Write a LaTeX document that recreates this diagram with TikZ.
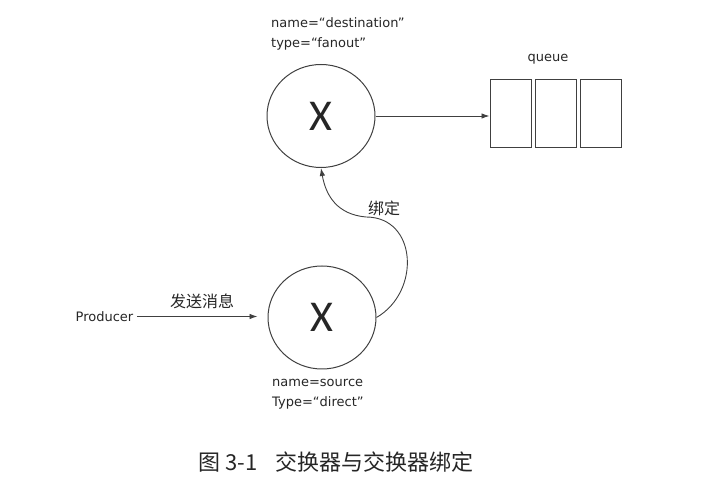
\documentclass[tikz,border=0pt]{standalone}
\usepackage{fontspec}
\setmainfont{DejaVu Sans}
\newfontfamily\cjk{Noto Sans CJK SC}
\newfontfamily\xfont{Carlito}
\usetikzlibrary{positioning,shapes.geometric,arrows.meta}

\begin{document}
\begin{tikzpicture}[x=1pt, y=1pt, >={Latex[length=8pt,width=5.5pt]},
    jiaohuan/.style={ellipse, draw=black!75, line width=1pt, fill=white,
                     minimum width=108pt, minimum height=103pt, inner sep=0pt,
                     font=\xfont\fontsize{44}{44}\selectfont, text=black!85},
    dui/.style={rectangle, draw=black!75, line width=1pt,
                minimum width=41pt, minimum height=68pt, inner sep=0pt},
    shuxing/.style={align=left, inner sep=0pt, text=black!85,
                    font=\fontsize{13}{20}\selectfont},
    biao/.style={text=black!85, font=\fontsize{13}{16}\selectfont},
    zhong/.style={text=black!85, font=\cjk\fontsize{16}{19}\selectfont},
    xian/.style={->, line width=0.9pt, draw=black!75}]

    \useasboundingbox (0,0) rectangle (716,488);

    \node (dst)  [jiaohuan] at (321,372)   {X};
    \node (src)  [jiaohuan] at (322,170.5) {X};
    \node (q1)   [dui] at (510.5,374) {};
    \node (q2)   [dui, right=3pt of q1] {};
    \node (q3)   [dui, right=3pt of q2] {};
    \node (prod) [biao] at (104.5,171.5) {Producer};

    % labels
    \node (dstlab) [shuxing, anchor=north west] at (271,471) {name=“destination”\\ type=“fanout”};
    \node (srclab) [shuxing, anchor=north west] at (272,109) {name=source\\ Type=“direct”};
    \node (qlab)   [biao] at (548,429) {queue};
    \coordinate (wan) at (366,271);

    % connectors
    \draw [xian, shorten >=10pt] (prod.east) -- (prod.east -| src.west)
        node[zhong, midway, above=4pt] {发送消息};
    \draw [xian] (dst.east) -- (dst.east -| q1.west);
    \draw [xian] (src.east) to[out=30, in=0, looseness=1.3] (wan)
        to[out=175, in=-80, looseness=1.1] (dst.south);
    \node (bang) [zhong] at (384,280) {绑定};

    % caption
    \node (cap) [text=black!85, font=\cjk\fontsize{22}{26}\selectfont] at (336,26) {图 3-1\hspace{0.8em}交换器与交换器绑定};
\end{tikzpicture}
\end{document}
